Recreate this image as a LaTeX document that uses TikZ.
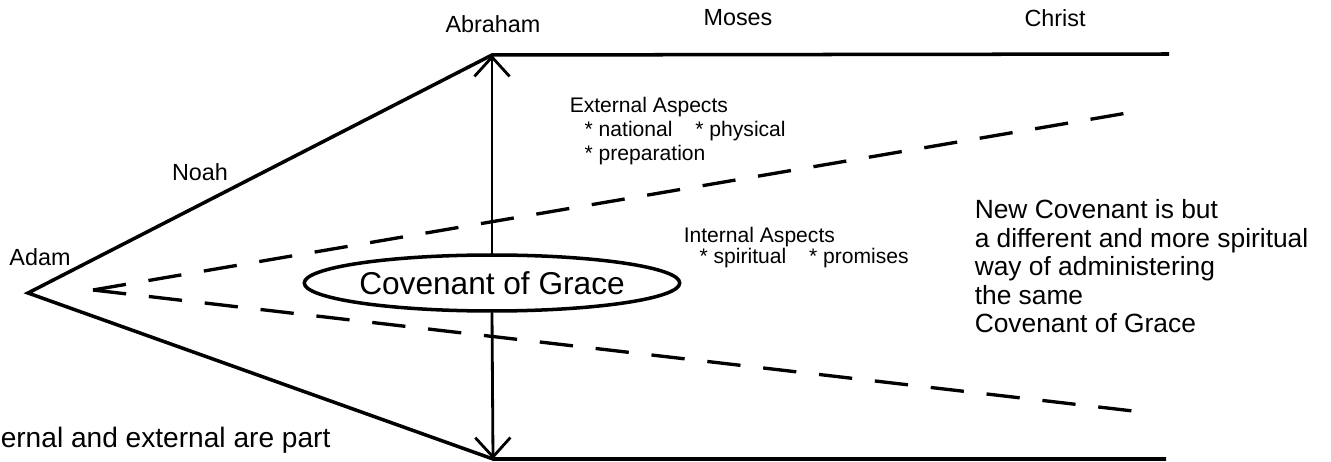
\documentclass[tikz,border=0pt]{standalone}
\usepackage{fontspec}
\setmainfont{Liberation Sans}
\usetikzlibrary{arrows.meta,shapes.geometric}
\begin{document}
\begin{tikzpicture}[x=0.02cm,y=-0.02cm,line width=2pt,
  >={Straight Barb[length=11pt,width=20pt]},
  lbl/.style={inner sep=0pt,font=\fontsize{13.3}{16}\selectfont},
  aspect/.style={inner sep=0pt,anchor=north west,align=left},
  note/.style={inner sep=0pt,anchor=north west,align=left,font=\fontsize{15}{16.2}\selectfont},
  gapline/.style={line width=1.9pt,dash pattern=on 19pt off 13pt}]
  \useasboundingbox (0,0) rectangle (1331,462);

  \coordinate (Adam) at (28,293);
  \coordinate (Abr) at (492,55);
  \coordinate (Bot) at (493,459);
  \coordinate (TopR) at (1169,54);
  \coordinate (BotR) at (1166,459);
  \coordinate (Tip) at (93,290);
  \coordinate (UpR) at (1133,112);
  \coordinate (LowR) at (1133,411);

  % 外框实线
  \draw (TopR) -- (Abr) -- (Adam) -- (Bot) -- (BotR);

  % 虚线
  \draw[gapline] (Tip) -- (UpR);
  \draw[gapline] (Tip) -- (LowR);

  % 中间椭圆与箭头
  \node[ellipse,draw,fill=white,inner sep=0pt,minimum width=7.28cm,minimum height=1.12cm,
    font=\fontsize{18}{20}\selectfont] (cov) at (492,283) {Covenant of Grace};
  \draw[->,line width=1.6pt] (cov.north) -- (Abr);
  \draw[->,line width=1.6pt] (cov.south) -- (Bot);

  % 人名标注
  \node[lbl] (abrL) at (493,24) {Abraham};
  \node[lbl] (mosL) at (738,18) {Moses};
  \node[lbl] (chrL) at (1055,18) {Christ};
  \node[lbl] (noahL) at (200,172) {Noah};
  \node[lbl] (adamL) at (40,257) {Adam};

  % 文字说明
  \node[aspect,font=\fontsize{12}{13.9}\selectfont] (ext) at (568,95)
    {External Aspects\\\hspace*{8.5pt}* national\hspace{13pt}* physical\\\hspace*{8.5pt}* preparation};
  \node[aspect,font=\fontsize{12}{12.3}\selectfont] (int) at (682,225)
    {Internal Aspects\\\hspace*{9pt}* spiritual\hspace{13pt}* promises};
  \node[note] (newc) at (973,198)
    {New Covenant is but\\a different and more spiritual\\way of administering\\the same\\Covenant of Grace};
  \node[inner sep=0pt,anchor=base west,font=\fontsize{16}{18}\selectfont] (part) at (-1,447)
    {ernal and external are part};
\end{tikzpicture}
\end{document}
